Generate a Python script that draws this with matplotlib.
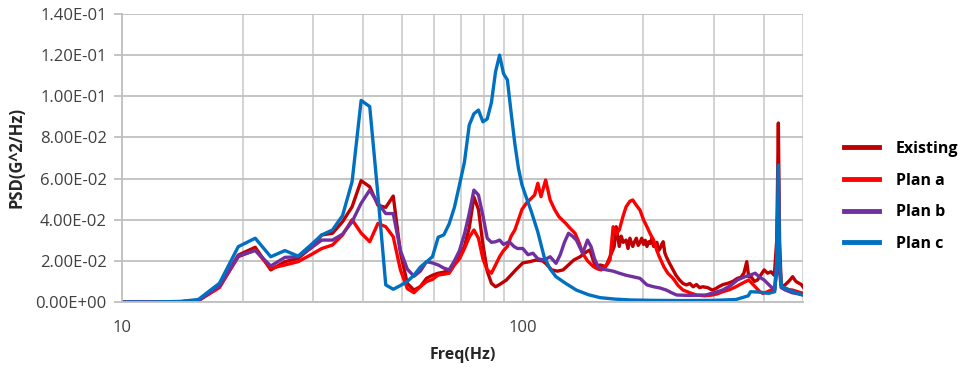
import matplotlib
matplotlib.use("Agg")
import matplotlib.pyplot as plt
from matplotlib.ticker import FuncFormatter, LogLocator, NullFormatter

# ---------------- data ----------------
freq_existing = [10, 12, 14, 15.5, 17.5, 19.5, 21.5, 23.5, 25.5, 27.5, 29.5, 31.5, 33.5, 35.5, 37.5, 39.5,
                 41.5, 43.5, 45.5, 47.5, 49.5, 51.5, 53.5, 55.5, 57.5, 59.5, 61.5, 63.5, 65.5, 67.5, 69.5,
                 71.5, 73.5, 75.5, 77.5, 79.5, 81.5, 83.5, 85.5, 87.5, 91, 96, 100, 104, 108, 112, 114, 118,
                 122, 126, 130, 134, 139, 143, 147, 150, 152, 156, 161, 165,
                 169, 171, 174, 176, 178, 181, 183, 185, 188, 190, 192, 194, 196, 198, 200, 202, 204, 206,
                 208, 210, 212, 214, 216, 218, 220, 222, 224, 226, 228, 232, 237, 241,
                 246, 251, 256, 261,
                 266, 271, 276, 281, 289, 297, 303, 308, 316, 325, 334, 343, 350, 356, 362, 366, 372, 378,
                 385, 392, 400, 408, 416, 424, 430, 434, 437, 441, 445, 455, 463, 471, 480, 489, 495, 500]
psd_existing = [0, 0, 0.0001, 0.0008, 0.0075, 0.0228, 0.0266, 0.0156, 0.0196, 0.0212, 0.0261, 0.0326, 0.0334,
                0.039, 0.0463, 0.059, 0.056, 0.047, 0.046, 0.0515, 0.024, 0.009, 0.0058, 0.0075, 0.0115,
                0.013, 0.014, 0.0145, 0.0156, 0.019, 0.023, 0.027, 0.036, 0.051, 0.045, 0.028, 0.015, 0.0091,
                0.0074, 0.0085, 0.0107, 0.0156, 0.019, 0.0196, 0.0204, 0.02, 0.0188, 0.0156, 0.015, 0.0156,
                0.018, 0.0204, 0.022, 0.024, 0.0253, 0.02, 0.0172, 0.018, 0.0172, 0.022,
                0.0269, 0.0366, 0.027, 0.032, 0.029, 0.0301, 0.026, 0.031, 0.027, 0.0293, 0.031, 0.0275,
                0.029, 0.031, 0.028, 0.030, 0.027, 0.0293,
                0.0285, 0.031, 0.027, 0.0277, 0.029, 0.025, 0.026, 0.028, 0.0293, 0.024, 0.022, 0.019, 0.0156, 0.013,
                0.0107, 0.009, 0.0083, 0.009,
                0.0074, 0.0085, 0.007, 0.0074, 0.007, 0.0058, 0.0065, 0.0074, 0.0085, 0.0091, 0.01, 0.0115,
                0.012, 0.014, 0.0196, 0.0123, 0.012, 0.01,
                0.0107, 0.013, 0.0156, 0.014, 0.0147, 0.013, 0.03, 0.087, 0.03, 0.009, 0.0074, 0.009, 0.0105,
                0.0123, 0.01, 0.0091, 0.0085, 0.0074]

freq_plan_a = [10, 12, 14, 15.5, 17.5, 19.5, 21.5, 23.5, 25.5, 27.5, 29.5, 31.5, 33.5, 35.5, 37.5, 39.5,
               41.5, 43.5, 45.5, 47.5, 49.5, 51.5, 53.5, 55.5, 57.5, 59.5, 61.5, 63.5, 65.5, 67.5, 69.5,
               71.5, 73.5, 75.5, 77.5, 79.5, 81.5, 83.5, 85.5, 87.5, 89.5, 91.5, 93.5, 95.5, 97.5, 99.5,
               102, 105, 107, 109, 111, 114, 117, 120, 123, 128, 131, 135, 138, 141, 145, 150, 154, 157,
               162, 165, 168, 171, 174, 178, 181, 185, 188, 192, 196, 200, 204, 208, 212, 216, 219, 225,
               230, 237, 244, 251, 261, 271, 284, 297, 306, 315, 328, 340, 352, 366, 373, 380, 390, 397,
               408, 416, 425, 430, 434, 437, 441, 445, 460, 471, 485, 500]
psd_plan_a = [0, 0, 0.0001, 0.0006, 0.007, 0.022, 0.0253, 0.0164, 0.018, 0.0196, 0.0228, 0.026, 0.0277,
              0.0326, 0.04, 0.0335, 0.0293, 0.0382, 0.0366, 0.0317, 0.0156, 0.0065, 0.0045, 0.0075, 0.0099,
              0.011, 0.0131, 0.0135, 0.014, 0.018, 0.021, 0.026, 0.0315, 0.035, 0.031, 0.021, 0.0156, 0.014,
              0.018, 0.022, 0.025, 0.027, 0.032, 0.035, 0.04, 0.045, 0.048, 0.0504, 0.052, 0.0577, 0.0512,
              0.0593, 0.0496, 0.045, 0.0415, 0.0382, 0.036, 0.0334, 0.029, 0.0237, 0.02, 0.0172, 0.016,
              0.0156, 0.018, 0.0204, 0.0366, 0.033, 0.035, 0.042, 0.0463, 0.049, 0.0496, 0.047, 0.0447,
              0.04, 0.0366, 0.033, 0.0301, 0.025, 0.022, 0.017, 0.014, 0.0115, 0.008, 0.0058, 0.0045,
              0.0034, 0.003, 0.0034, 0.004, 0.005, 0.006, 0.0074, 0.009, 0.0107, 0.009, 0.0074, 0.005,
              0.0042, 0.005, 0.0058, 0.006, 0.02, 0.06, 0.02, 0.008, 0.0074, 0.006, 0.0058, 0.005, 0.0042]

freq_plan_b = [10, 12, 14, 15.5, 17.5, 19.5, 21.5, 23.5, 25.5, 27.5, 29.5, 31.5, 33.5, 35.5, 37.5, 39.5,
               41.5, 43.5, 45.5, 47.5, 49.5, 51.5, 53.5, 55.5, 57.5, 59.5, 61.5, 63.5, 65.5, 67.5, 69.5,
               71.5, 73.5, 75.5, 77.5, 79.5, 81.5, 83.5, 85.5, 87.5, 89.5, 92.5, 95, 97, 100, 103, 106,
               109, 113, 117, 121, 124, 127, 130, 133, 136, 141, 145, 148, 151, 154, 158, 162, 168, 174,
               181, 188, 196, 204, 212, 220, 228, 235, 242, 260, 286, 300, 315, 330, 343, 355, 368, 380,
               390, 400, 416, 425, 430, 434, 437, 441, 452, 470, 485, 500]
psd_plan_b = [0, 0, 0.0001, 0.0007, 0.0078, 0.0224, 0.025, 0.0175, 0.0217, 0.022, 0.026, 0.0301, 0.0301,
              0.033, 0.039, 0.048, 0.0544, 0.048, 0.043, 0.043, 0.025, 0.016, 0.0125, 0.015, 0.0196, 0.019,
              0.018, 0.0165, 0.0156, 0.02, 0.025, 0.033, 0.043, 0.0544, 0.052, 0.042, 0.031, 0.029, 0.0293,
              0.0301, 0.028, 0.0293, 0.027, 0.026, 0.026, 0.023, 0.0237, 0.021, 0.0204, 0.022, 0.0188,
              0.023, 0.029, 0.0334, 0.032, 0.0301, 0.0237, 0.0301, 0.0269, 0.021, 0.0172, 0.016, 0.0156,
              0.015, 0.014, 0.013, 0.0123, 0.0115, 0.0083, 0.0074, 0.0068, 0.0058, 0.0045, 0.0034, 0.0032,
              0.0034, 0.0045, 0.0058, 0.008, 0.0107, 0.012, 0.013, 0.014, 0.012, 0.0107, 0.0074, 0.006,
              0.015, 0.045, 0.015, 0.007, 0.0058, 0.0045, 0.004, 0.0034]

freq_plan_c = [10, 12, 14, 15.5, 17.5, 19.5, 21.5, 23.5, 25.5, 27.5, 29.5, 31.5, 33.5, 35.5, 37.5, 39.5,
               41.5, 43.5, 45.5, 47.5, 49.5, 51.5, 53.5, 55.5, 57.5, 59.5, 61.5, 63.5, 65.5, 67.5, 69.5,
               71.5, 73.5, 75.5, 77.5, 79.5, 81.5, 83.5, 85.5, 87.5, 89.5, 91.5, 93.5, 95.5, 97.5, 99.5,
               101.5, 105, 109, 113, 117, 121, 128, 136, 146, 156, 170, 185, 210, 250, 300, 340, 365, 370,
               390, 410, 425, 430, 434, 437, 442, 460, 480, 500]
psd_plan_c = [0, 0, 0.0003, 0.0012, 0.0091, 0.0269, 0.031, 0.022, 0.025, 0.0223, 0.0275, 0.0326, 0.035,
              0.042, 0.0585, 0.098, 0.095, 0.052, 0.0083, 0.0062, 0.008, 0.010, 0.013, 0.017, 0.0195, 0.022,
              0.0315, 0.0326, 0.038, 0.046, 0.057, 0.068, 0.086, 0.0915, 0.0933, 0.0876, 0.089, 0.097, 0.112,
              0.12, 0.111, 0.108, 0.092, 0.077, 0.065, 0.057, 0.052, 0.044, 0.034, 0.022, 0.016, 0.0123,
              0.009, 0.0058, 0.0035, 0.0021, 0.0014, 0.001, 0.0008, 0.0007, 0.0008, 0.0012, 0.003, 0.005,
              0.0048, 0.0042, 0.005, 0.02, 0.0666, 0.02, 0.0075, 0.006, 0.0045, 0.0034]

series_labels = ["Existing", "Plan a", "Plan b", "Plan c"]
series_colors = ["#C00000", "#FF0000", "#7030A0", "#0070C0"]
y_ticks = [0.0, 0.02, 0.04, 0.06, 0.08, 0.10, 0.12, 0.14]

# ---------------- plot ----------------
plt.rcParams['font.family'] = ['Open Sans', 'DejaVu Sans']

fig = plt.figure(figsize=(9.63, 3.71), dpi=100)
ax = fig.add_axes([122 / 963, 1 - 302 / 371, (803 - 122) / 963, (302 - 14) / 371])

data = [(freq_existing, psd_existing), (freq_plan_a, psd_plan_a),
        (freq_plan_b, psd_plan_b), (freq_plan_c, psd_plan_c)]
for (f, p), lab, col in zip(data, series_labels, series_colors):
    ax.plot(f, p, color=col, lw=2.4, label=lab, solid_joinstyle='round')

ax.set_xscale('log')
ax.set_xlim(10, 500)
ax.set_ylim(0, 0.14)
ax.set_yticks(y_ticks)
ax.yaxis.set_major_formatter(FuncFormatter(lambda v, _: f"{v:.2E}"))
ax.xaxis.set_major_locator(LogLocator(base=10))
ax.xaxis.set_minor_locator(LogLocator(base=10, subs=range(2, 10)))
ax.xaxis.set_minor_formatter(NullFormatter())
ax.xaxis.set_major_formatter(FuncFormatter(lambda v, _: f"{int(round(v))}"))

ax.grid(True, which='major', axis='y', color='#BFBFBF', lw=1.3)
ax.grid(True, which='both', axis='x', color='#D0D0D0', lw=1.3)
ax.set_axisbelow(True)
for s in ['top', 'right']:
    ax.spines[s].set_visible(False)
ax.spines['left'].set_color('#BFBFBF')
ax.spines['left'].set_linewidth(1.3)
ax.spines['bottom'].set_color('#BFBFBF')
ax.spines['bottom'].set_linewidth(1.3)

ax.tick_params(axis='y', length=6, width=1.3, color='#BFBFBF', labelsize=12,
               labelcolor='#404040', pad=5)
ax.tick_params(axis='x', which='both', length=0, labelsize=12, labelcolor='#404040', pad=13)

ax.set_ylabel("PSD(G^2/Hz)", fontsize=12, fontweight='bold', color='#262626', labelpad=7)
ax.set_xlabel("Freq(Hz)", fontsize=11.5, fontweight='bold', color='#262626', labelpad=8)

leg = fig.legend(loc='upper left', bbox_to_anchor=(844 / 963, 1 - 141 / 371), frameon=False,
                 fontsize=11.5, handlelength=2.2, handletextpad=1.05, labelspacing=0.98,
                 borderpad=0, borderaxespad=0)
for t in leg.get_texts():
    t.set_fontweight('bold')
    t.set_color('black')
for h in leg.get_lines():
    h.set_linewidth(3.5)

fig.savefig("out.png", dpi=100)
